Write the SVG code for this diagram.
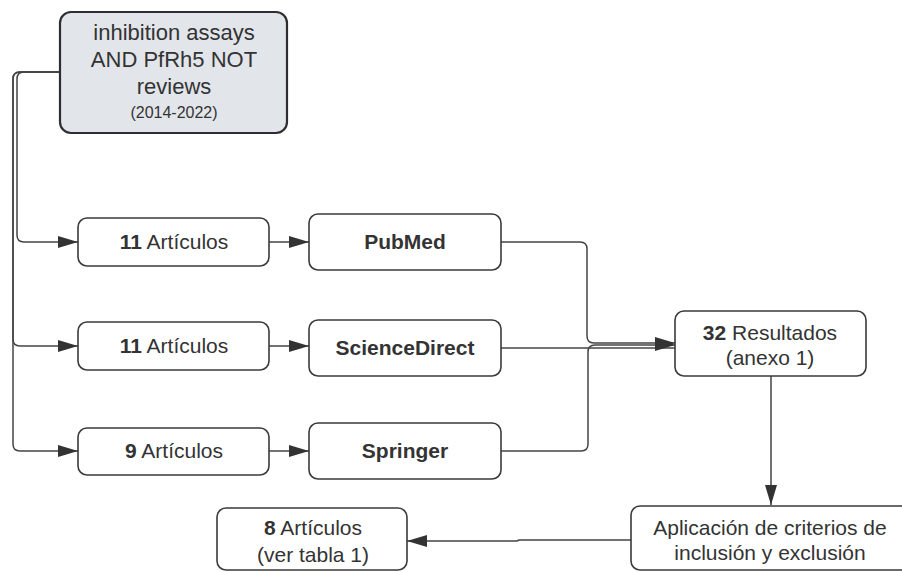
<svg xmlns="http://www.w3.org/2000/svg" width="902" height="572" viewBox="0 0 902 572">
<style>
.box{fill:#ffffff;stroke:#3a3a3a;stroke-width:1.6}
.top{fill:#e2e5ea;stroke:#2e2e2e;stroke-width:2.2}
text{font-family:"Liberation Sans",Arial,sans-serif;fill:#333333;text-anchor:middle}
.t{font-size:21px}
.q{font-size:22px}
.b{font-weight:bold}
.s{font-size:16px}
.c{fill:none;stroke:#444444;stroke-width:1.5}
</style>
<defs>
<marker id="ah" viewBox="0 0 20 12" refX="20" refY="6" markerWidth="20" markerHeight="12" markerUnits="userSpaceOnUse" orient="auto">
<path d="M0,0 L20,6 L0,12 Z" fill="#333333"/>
</marker>
</defs>
<rect width="902" height="572" fill="#ffffff"/>
<g id="connectors">
<path class="c" d="M60,72 H24 Q17,72 17,79 V235 Q17,242 24,242 H78" marker-end="url(#ah)"/>
<path class="c" d="M60,72 H20 Q13,72 13,79 V339 Q13,346 20,346 H78" marker-end="url(#ah)"/>
<path class="c" d="M60,72 H20 Q13,72 13,79 V444 Q13,451 20,451 H78" marker-end="url(#ah)"/>
<path class="c" d="M269,242 H309" marker-end="url(#ah)"/>
<path class="c" d="M269,346 H309" marker-end="url(#ah)"/>
<path class="c" d="M269,451 H309" marker-end="url(#ah)"/>
<path class="c" d="M501,242 H580 Q587,242 587,249 V336 Q587,343 594,343 H675" marker-end="url(#ah)"/>
<path class="c" d="M501,348 H675"/>
<path class="c" d="M501,451 H581 Q588,451 588,444 V352 Q588,345 595,345 H675" marker-end="url(#ah)"/>
<path class="c" d="M771,376 V505" marker-end="url(#ah)"/>
<path class="c" d="M631,540 H519 L517,541 H407" marker-end="url(#ah)"/>
</g>
<g id="n_query">
<rect class="top" x="60" y="12" width="227" height="121" rx="11"/>
<text class="q" x="174" y="40">inhibition assays</text>
<text class="q" x="174" y="67">AND PfRh5 NOT</text>
<text class="q" x="174" y="94">reviews</text>
<text class="s" x="174" y="118">(2014-2022)</text>
</g>
<g id="n_art1">
<rect class="box" x="78" y="218" width="191" height="48" rx="9"/>
<text class="t" x="174" y="249"><tspan class="b">11</tspan> Artículos</text>
</g>
<g id="n_art2">
<rect class="box" x="78" y="322" width="191" height="48" rx="9"/>
<text class="t" x="174" y="353"><tspan class="b">11</tspan> Artículos</text>
</g>
<g id="n_art3">
<rect class="box" x="78" y="428" width="191" height="47" rx="9"/>
<text class="t" x="174" y="458"><tspan class="b">9</tspan> Artículos</text>
</g>
<g id="n_pubmed">
<rect class="box" x="309" y="214" width="192" height="56" rx="9"/>
<text class="t b" x="405" y="249">PubMed</text>
</g>
<g id="n_sciencedirect">
<rect class="box" x="309" y="320" width="192" height="56" rx="9"/>
<text class="t b" x="405" y="355">ScienceDirect</text>
</g>
<g id="n_springer">
<rect class="box" x="309" y="423" width="192" height="56" rx="9"/>
<text class="t b" x="405" y="458">Springer</text>
</g>
<g id="n_resultados">
<rect class="box" x="675" y="311" width="191" height="65" rx="9"/>
<text class="t" x="770" y="340"><tspan class="b">32</tspan> Resultados</text>
<text class="t" x="770" y="365">(anexo 1)</text>
</g>
<g id="n_criterios">
<rect class="box" x="631" y="506" width="290" height="64" rx="9"/>
<text class="t" x="770" y="535">Aplicación de criterios de</text>
<text class="t" x="770" y="560">inclusión y exclusión</text>
</g>
<g id="n_final">
<rect class="box" x="217" y="508" width="190" height="62" rx="9"/>
<text class="t" x="313" y="535"><tspan class="b">8</tspan> Artículos</text>
<text class="t" x="313" y="562">(ver tabla 1)</text>
</g>
</svg>
